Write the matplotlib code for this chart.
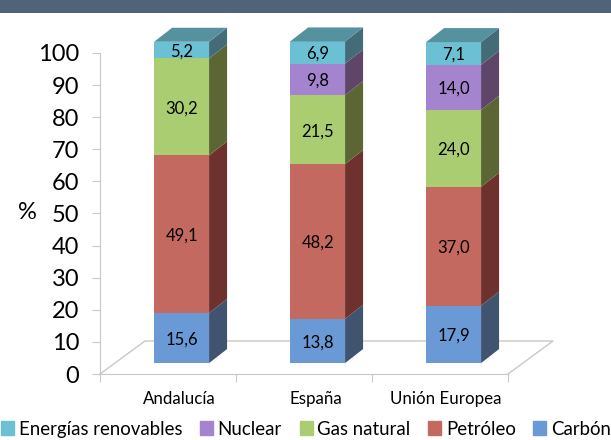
import matplotlib
matplotlib.use("Agg")
import matplotlib.pyplot as plt
from matplotlib.patches import Patch, Rectangle

plt.rcParams["font.family"] = ["Lato", "DejaVu Sans"]

paises = ["Andalucía", "España", "Unión Europea"]
series = ["Carbón", "Petróleo", "Gas natural", "Nuclear", "Energías renovables"]
carbon = [15.6, 13.8, 17.9]
petroleo = [49.1, 48.2, 37.0]
gas = [30.2, 21.5, 24.0]
nuclear = [0, 9.8, 14.0]
renovables = [5.2, 6.9, 7.1]
valores = [carbon, petroleo, gas, nuclear, renovables]
etiquetas_y = [0, 10, 20, 30, 40, 50, 60, 70, 80, 90, 100]

colores = ["#6a9ad6", "#c4695f", "#abcd72", "#a483cf", "#6bc0d3"]
lateral = ["#40546f", "#6e322e", "#5c6635", "#5f4668", "#446b78"]
color_tapa = "#55919f"
gris = "#c8c8c8"

W, H = 611, 440
fig = plt.figure(figsize=(W / 100, H / 100), dpi=100)
# eje principal: x de 100 a 508 px, y de 374 a 53 px
ax = fig.add_axes([100 / W, 1 - 374 / H, 408 / W, 321 / H])
ax.set_xlim(0, 3)
ax.set_ylim(0, 100)

# banda superior
fig.add_artist(Rectangle((0, 1 - 13 / H), 1, 13 / H, transform=fig.transFigure,
                         color="#4f6478", lw=0))

# suelo en perspectiva
suelo_dx, suelo_dy = 45 / 136, 33 / 3.21
ax.plot([0, suelo_dx, 3 + suelo_dx, 3], [0, suelo_dy, suelo_dy, 0],
        color=gris, lw=1, clip_on=False, zorder=1)

ancho = 0.404
centros = [0.6, 1.6, 2.6]
base = 3.4
prof_x, prof_y = 18 / 136, 14 / 3.21

for j, c in enumerate(centros):
    abajo = base
    x0, x1 = c - ancho / 2, c + ancho / 2
    for i, vals in enumerate(valores):
        v = vals[j]
        if v == 0:
            continue
        ax.bar(c, v, ancho, bottom=abajo, color=colores[i], lw=0, zorder=3, clip_on=False)
        ax.fill([x1, x1 + prof_x, x1 + prof_x, x1],
                [abajo, abajo + prof_y, abajo + v + prof_y, abajo + v],
                color=lateral[i], lw=0, zorder=3, clip_on=False)
        ax.text(c, abajo + v / 2 - 0.5, f"{v:.1f}".replace(".", ","), ha="center", va="center",
                fontsize=12, color="black", zorder=4)
        abajo += v
    ax.fill([x0, x1, x1 + prof_x, x0 + prof_x],
            [abajo, abajo, abajo + prof_y, abajo + prof_y],
            color=color_tapa, lw=0, zorder=3, clip_on=False)

# ejes
for s in ["top", "right"]:
    ax.spines[s].set_visible(False)
ax.spines["left"].set_color(gris)
ax.spines["bottom"].set_color(gris)
ax.patch.set_alpha(0)
ax.set_yticks(etiquetas_y)
ax.set_yticklabels([str(e) for e in etiquetas_y], fontsize=17)
ax.tick_params(axis="y", length=6, color=gris, pad=9)
ax.set_xticks([0, 1, 2, 3])
ax.set_xticklabels([])
ax.tick_params(axis="x", length=6, color=gris)
ax.set_xticks([0.58, 1.59, 2.54], minor=True)
ax.set_xticklabels(paises, minor=True, fontsize=12.2)
ax.tick_params(axis="x", which="minor", length=0, pad=12)

fig.text(27 / W, 1 - 212 / H, "%", fontsize=17, ha="center", va="center")

# leyenda
manijas = [Patch(color=colores[i], label=series[i]) for i in range(4, -1, -1)]
fig.legend(handles=manijas, loc="center", bbox_to_anchor=(306 / W, 1 - 429 / H), ncol=5,
           frameon=False, fontsize=13.4, handlelength=0.7, handleheight=0.75,
           handletextpad=0.25, columnspacing=0.95, borderpad=0, borderaxespad=0)

fig.savefig("out.png", dpi=100)
